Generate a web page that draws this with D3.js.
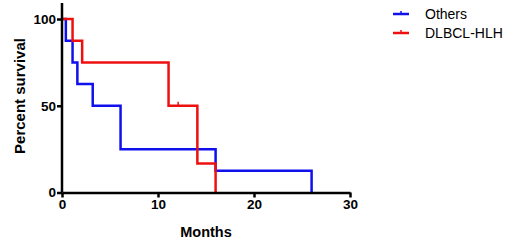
<!DOCTYPE html>
<html>
<head>
<meta charset="utf-8">
<script src="https://cdn.jsdelivr.net/npm/d3@7"></script>
<style>
  body { margin: 0; background: #fff; }
  svg { display: block; font-family: Arial, "Liberation Sans", sans-serif; }
</style>
</head>
<body>
<div id="chart"></div>
<script>
// Kaplan-Meier steps: [month, percent survival]
const othersSteps = [[0, 100], [0.4, 87.5], [1.1, 75], [1.6, 62.5], [3.2, 50], [6.1, 25], [16, 12.5], [26, 0]];
const dlbclSteps = [[0, 100], [1.1, 87.5], [2.1, 75], [11.1, 50], [14.1, 16.7], [16, 0]];
const dlbclCensored = [[12.1, 50]];
const xTicks = [0, 10, 20, 30];
const yTicks = [0, 50, 100];
const series = [
  { name: 'Others', color: '#1010ee', steps: othersSteps, censored: [] },
  { name: 'DLBCL-HLH', color: '#ee1010', steps: dlbclSteps, censored: dlbclCensored },
];

const width = 520;
const height = 241;

const svg = d3.select('#chart').append('svg')
  .attr('width', width).attr('height', height);

const x = d3.scaleLinear().domain([0, 30]).range([62, 350]);
const y = d3.scaleLinear().domain([0, 100]).range([192.5, 19]);

const stepLine = d3.line().curve(d3.curveStepAfter)
  .x((d) => x(d[0])).y((d) => y(d[1]));

series.forEach((s) => {
  svg.append('path')
    .attr('d', stepLine(s.steps))
    .attr('fill', 'none')
    .attr('stroke', s.color)
    .attr('stroke-width', 2.5);

  s.censored.forEach((c) => {
    svg.append('line')
      .attr('x1', x(c[0])).attr('x2', x(c[0]))
      .attr('y1', y(c[1])).attr('y2', y(c[1]) - 4)
      .attr('stroke', s.color).attr('stroke-width', 1.5);
  });
});

// axes
const xAxis = svg.append('g').attr('transform', `translate(0,${y(0)})`)
  .call(d3.axisBottom(x).tickValues(xTicks).tickSize(5).tickPadding(2).tickSizeOuter(0));
const yAxis = svg.append('g').attr('transform', `translate(${x(0)},0)`)
  .call(d3.axisLeft(y).tickValues(yTicks).tickSize(5).tickPadding(1).tickSizeOuter(0));

[xAxis, yAxis].forEach((g) => {
  g.select('.domain').attr('stroke', '#000').attr('stroke-width', 2.5);
  g.selectAll('.tick line').attr('stroke', '#000').attr('stroke-width', 2.5);
  g.selectAll('.tick text')
    .attr('fill', '#000')
    .attr('font-size', 13.5)
    .attr('font-weight', 700)
    .attr('font-family', 'Arial, "Liberation Sans", sans-serif');
});
// y axis runs above 100
yAxis.select('.domain').attr('d', `M0,3V${y(0)}`);

svg.append('text')
  .attr('transform', `translate(25,${96}) rotate(-90)`)
  .attr('text-anchor', 'middle')
  .attr('font-size', 15).attr('font-weight', 700)
  .text('Percent survival');

svg.append('text')
  .attr('x', 206).attr('y', 237)
  .attr('text-anchor', 'middle')
  .attr('font-size', 14.5).attr('font-weight', 700)
  .text('Months');

// legend
const legend = svg.append('g');
series.forEach((s, i) => {
  const ly = 14 + i * 19;
  legend.append('line')
    .attr('x1', 393).attr('x2', 409).attr('y1', ly).attr('y2', ly)
    .attr('stroke', s.color).attr('stroke-width', 2.5);
  legend.append('line')
    .attr('x1', 401).attr('x2', 401).attr('y1', ly).attr('y2', ly - 3)
    .attr('stroke', s.color).attr('stroke-width', 1.5);
  legend.append('text')
    .attr('x', 425).attr('y', ly).attr('dy', '0.35em')
    .attr('font-size', 14)
    .text(s.name);
});
</script>
</body>
</html>
